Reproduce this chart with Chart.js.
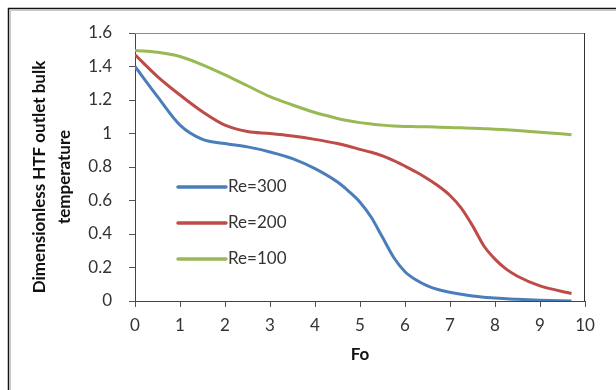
<!DOCTYPE html>
<html>
<head>
<meta charset="utf-8">
<script src="https://cdn.jsdelivr.net/npm/chart.js@4.4.0/dist/chart.umd.min.js"></script>
<style>
  html, body { margin: 0; padding: 0; background: #fff; }
  #wrap { position: relative; width: 616px; height: 390px; }
</style>
</head>
<body>
<div id="wrap"><canvas id="fo-chart" width="616" height="390"></canvas></div>
<script>
// ---- data ----
var foValues = [0, 0.5, 1, 1.5, 2, 2.5, 3, 3.5, 4, 4.5, 4.75, 5, 5.25, 5.5, 5.75, 6, 6.25, 6.5, 6.75, 7, 7.25, 7.5, 7.75, 8, 8.25, 8.5, 9, 9.7];
var re300 = [1.40, 1.22, 1.05, 0.965, 0.94, 0.92, 0.89, 0.85, 0.79, 0.71, 0.655, 0.59, 0.50, 0.38, 0.26, 0.175, 0.125, 0.09, 0.067, 0.052, 0.04, 0.03, 0.023, 0.018, 0.013, 0.01, 0.005, 0.0];
var re200 = [1.47, 1.34, 1.23, 1.13, 1.05, 1.012, 1.0, 0.985, 0.965, 0.94, 0.924, 0.905, 0.888, 0.866, 0.838, 0.805, 0.77, 0.73, 0.685, 0.63, 0.555, 0.45, 0.33, 0.25, 0.19, 0.148, 0.09, 0.045];
var re100 = [1.495, 1.485, 1.46, 1.41, 1.35, 1.285, 1.22, 1.17, 1.125, 1.09, 1.076, 1.065, 1.057, 1.05, 1.045, 1.042, 1.041, 1.04, 1.038, 1.036, 1.034, 1.032, 1.029, 1.026, 1.022, 1.018, 1.008, 0.993];
var seriesLabels = ['Re=300', 'Re=200', 'Re=100'];
var seriesColors = ['#4a7ebb', '#be4b48', '#98b954'];
var yTitleLines = ['Dimensionless HTF outlet bulk', 'temperature'];
var xTitle = 'Fo';

var FONT = 'Lato, "Open Sans", sans-serif';

function toPoints(ys) {
  var pts = [];
  for (var i = 0; i < foValues.length; i++) {
    pts.push({x: foValues[i], y: ys[i]});
  }
  return pts;
}

// outer frame, plot box top/right edges
var framePlugin = {
  id: 'frame',
  beforeDraw: function(chart) {
    var ctx = chart.ctx;
    ctx.save();
    ctx.fillStyle = '#fff';
    ctx.fillRect(0, 0, chart.width, chart.height);
    ctx.strokeStyle = '#c8c8c8';
    ctx.lineWidth = 1;
    ctx.beginPath();
    ctx.moveTo(10.5, chart.height);
    ctx.lineTo(10.5, 10.5);
    ctx.lineTo(chart.width, 10.5);
    ctx.stroke();
    ctx.strokeStyle = '#111';
    ctx.lineWidth = 1.5;
    ctx.beginPath();
    ctx.moveTo(8.5, chart.height);
    ctx.lineTo(8.5, 8.5);
    ctx.lineTo(chart.width, 8.5);
    ctx.stroke();
    ctx.restore();
  },
  beforeDatasetsDraw: function(chart) {
    var a = chart.chartArea;
    var ctx = chart.ctx;
    ctx.save();
    ctx.lineWidth = 1;
    ctx.strokeStyle = '#8c8c8c';
    ctx.beginPath();
    ctx.moveTo(a.left, a.top + 0.5);
    ctx.lineTo(a.right, a.top + 0.5);
    ctx.stroke();
    ctx.strokeStyle = '#333';
    ctx.beginPath();
    ctx.moveTo(a.right - 0.5, a.top);
    ctx.lineTo(a.right - 0.5, a.bottom);
    ctx.stroke();
    ctx.restore();
  }
};

// legend drawn inside the plot + axis titles
var labelsPlugin = {
  id: 'labels',
  afterDraw: function(chart) {
    var ctx = chart.ctx;
    var a = chart.chartArea;
    ctx.save();
    // legend
    var rows = [187, 223, 259];
    chart.data.datasets.forEach(function(ds, i) {
      ctx.strokeStyle = ds.borderColor;
      ctx.lineWidth = 3.5;
      ctx.lineCap = 'round';
      ctx.beginPath();
      ctx.moveTo(178, rows[i]);
      ctx.lineTo(226, rows[i]);
      ctx.stroke();
      ctx.fillStyle = '#333';
      ctx.font = '17px ' + FONT;
      ctx.textAlign = 'left';
      ctx.textBaseline = 'middle';
      ctx.fillText(ds.label, 228, rows[i]);
    });
    // y title
    ctx.fillStyle = '#111';
    ctx.font = 'bold 17px ' + FONT;
    ctx.textAlign = 'center';
    ctx.textBaseline = 'middle';
    ctx.translate(0, 177);
    ctx.rotate(-Math.PI / 2);
    ctx.fillText(yTitleLines[0], 0, 40);
    ctx.fillText(yTitleLines[1], 0, 65);
    ctx.restore();
    // x title
    ctx.save();
    ctx.fillStyle = '#111';
    ctx.font = 'bold 17px ' + FONT;
    ctx.textAlign = 'center';
    ctx.textBaseline = 'middle';
    ctx.fillText(xTitle, (a.left + a.right) / 2, 355);
    ctx.restore();
  }
};

var datasets = [re300, re200, re100].map(function(ys, i) {
  return {
    label: seriesLabels[i],
    data: toPoints(ys),
    borderColor: seriesColors[i],
    backgroundColor: seriesColors[i],
    borderWidth: 3,
    pointRadius: 0,
    fill: false,
    cubicInterpolationMode: 'monotone'
  };
});

new Chart(document.getElementById('fo-chart'), {
  type: 'line',
  data: { datasets: datasets },
  options: {
    responsive: false,
    animation: false,
    layout: { padding: { top: 33, right: 31, left: 0, bottom: 0 } },
    plugins: {
      legend: { display: false },
      tooltip: { enabled: false }
    },
    scales: {
      x: {
        type: 'linear',
        min: 0,
        max: 10,
        afterFit: function(scale) { scale.height = 89; },
        ticks: { stepSize: 1, color: '#333', padding: 8, font: { family: FONT, size: 17 } },
        grid: { drawOnChartArea: false, tickLength: 6, color: '#555' },
        border: { color: '#444', width: 1 }
      },
      y: {
        min: 0,
        max: 1.6,
        afterFit: function(scale) { scale.width = 135; },
        ticks: {
          stepSize: 0.2, color: '#333', padding: 17, font: { family: FONT, size: 17 },
          callback: function(v) { return String(Math.round(v * 10) / 10); }
        },
        grid: { drawOnChartArea: false, tickLength: 6, color: '#555' },
        border: { color: '#444', width: 1 }
      }
    }
  },
  plugins: [framePlugin, labelsPlugin]
});
</script>
</body>
</html>
